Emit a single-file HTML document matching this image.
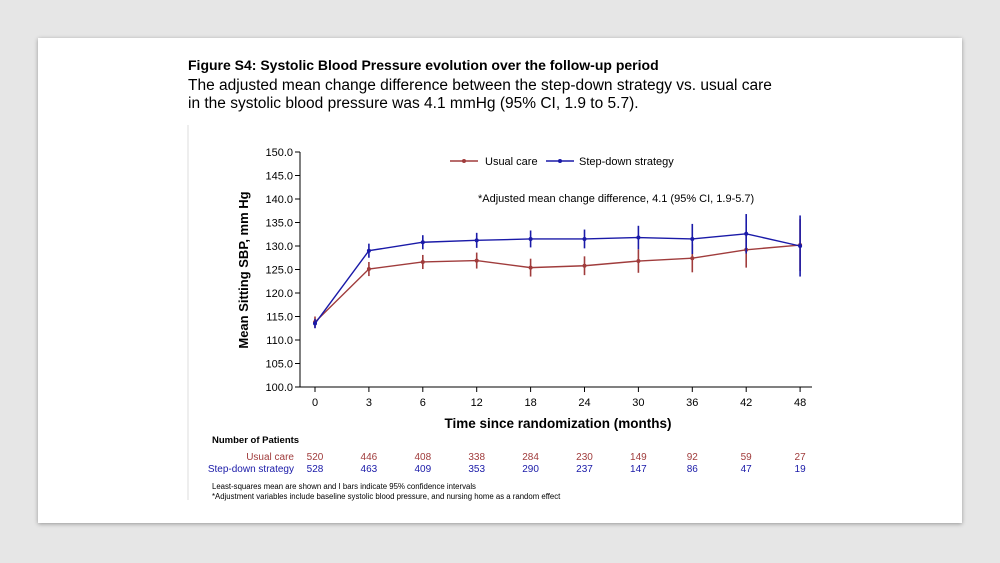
<!DOCTYPE html>
<html><head><meta charset="utf-8"><style>
body{margin:0;width:1000px;height:563px;background:#e6e6e6;font-family:"Liberation Sans",sans-serif;position:relative;overflow:hidden}
#card{position:absolute;left:38px;top:38px;width:924px;height:485px;background:#fff;box-shadow:0 1px 4px rgba(0,0,0,.35)}
.t{position:absolute;left:188px;color:#000;white-space:nowrap}
</style></head><body>
<div id="card"></div>
<div class="t" style="top:57px;font-size:14px;font-weight:bold">Figure S4: Systolic Blood Pressure evolution over the follow-up period</div>
<div class="t" style="top:77px;font-size:15.5px;line-height:18px">The adjusted mean change difference between the step-down strategy vs. usual care<br>in the systolic blood pressure was 4.1 mmHg (95% CI, 1.9 to 5.7).</div>
<svg id="c" width="1000" height="563" style="position:absolute;left:0;top:0" font-family="Liberation Sans, sans-serif"></svg>
<script>
const months=["0","3","6","12","18","24","30","36","42","48"];
const stepDown=[113.5,129.0,130.8,131.2,131.5,131.5,131.8,131.5,132.6,130.0];
const stepDownCI=[1.0,1.5,1.5,1.6,1.8,2.0,2.5,3.2,4.2,6.5];
const usual=[113.8,125.1,126.6,126.9,125.4,125.8,126.8,127.4,129.2,130.2];
const usualCI=[1.2,1.5,1.5,1.7,1.9,2.0,2.5,3.0,3.8,5.5];
const yTicks=[100,105,110,115,120,125,130,135,140,145,150];
const usualN=[520,446,408,338,284,230,149,92,59,27];
const stepN=[528,463,409,353,290,237,147,86,47,19];
const svg=document.getElementById('c');
const NS='http://www.w3.org/2000/svg';
function el(t,a,p){const e=document.createElementNS(NS,t);for(const k in a)e.setAttribute(k,a[k]);(p||svg).appendChild(e);return e;}
function txt(s,a){const e=el('text',a);e.textContent=s;return e;}
const X=i=>315+i*53.9, Y=v=>387-(v-100)*4.7;
const RED='#a03c3c',BLUE='#1a1aa8';
el('line',{x1:188,y1:125,x2:188,y2:500,stroke:'#ddd','stroke-width':1,});
let e=el('line',{x1:300,y1:152,x2:300,y2:387,stroke:'#000'});

e=el('line',{x1:300,y1:387,x2:812,y2:387,stroke:'#000'});

yTicks.forEach(v=>{el('line',{x1:295,y1:Y(v),x2:300,y2:Y(v),stroke:'#000'});
 e=txt(v.toFixed(1),{x:293,y:Y(v)+4,'font-size':11,'text-anchor':'end'});
 });
months.forEach((m,i)=>{el('line',{x1:X(i),y1:387,x2:X(i),y2:392,stroke:'#000'});
 e=txt(m,{x:X(i),y:406,'font-size':11,'text-anchor':'middle'});
 });
e=txt('Mean Sitting SBP, mm Hg',{x:248,y:270,'font-size':13,'font-weight':'bold','text-anchor':'middle',transform:'rotate(-90 248 270)'});

e=txt('Time since randomization (months)',{x:558,y:428,'font-size':13.5,'font-weight':'bold','text-anchor':'middle'});

e=txt('*Adjusted mean change difference, 4.1 (95% CI, 1.9-5.7)',{x:478,y:202,'font-size':11});

function series(vals,ci,col,name){
 const p=el('polyline',{points:vals.map((v,i)=>X(i)+','+Y(v)).join(' '),fill:'none',stroke:col,'stroke-width':1.4});
 
 vals.forEach((v,i)=>{const b=el('line',{x1:X(i),y1:Y(v-ci[i]),x2:X(i),y2:Y(v+ci[i]),stroke:col,'stroke-width':1.6});
  
  const c=el('circle',{cx:X(i),cy:Y(v),r:2,fill:col});
  });
}
series(usual,usualCI,RED,'usual-care');
series(stepDown,stepDownCI,BLUE,'step-down');
el('line',{x1:450,y1:161,x2:478,y2:161,stroke:RED,'stroke-width':1.4});el('circle',{cx:464,cy:161,r:2,fill:RED});
e=txt('Usual care',{x:485,y:165,'font-size':11});
el('line',{x1:546,y1:161,x2:574,y2:161,stroke:BLUE,'stroke-width':1.4});el('circle',{cx:560,cy:161,r:2,fill:BLUE});
e=txt('Step-down strategy',{x:579,y:165,'font-size':11});
e=txt('Number of Patients',{x:212,y:443,'font-size':9.5,'font-weight':'bold'});
e=txt('Usual care',{x:294,y:460,'font-size':10,'text-anchor':'end',fill:RED});
e=txt('Step-down strategy',{x:294,y:472,'font-size':10,'text-anchor':'end',fill:BLUE});
months.forEach((m,i)=>{
 e=txt(String(usualN[i]),{x:X(i),y:460,'font-size':10,'text-anchor':'middle',fill:RED});
 e=txt(String(stepN[i]),{x:X(i),y:472,'font-size':10,'text-anchor':'middle',fill:BLUE});
});
e=txt('Least-squares mean are shown and I bars indicate 95% confidence intervals',{x:212,y:489,'font-size':7.8});
e=txt('*Adjustment variables include baseline systolic blood pressure, and nursing home as a random effect',{x:212,y:499,'font-size':7.8});
</script>
</body></html>
